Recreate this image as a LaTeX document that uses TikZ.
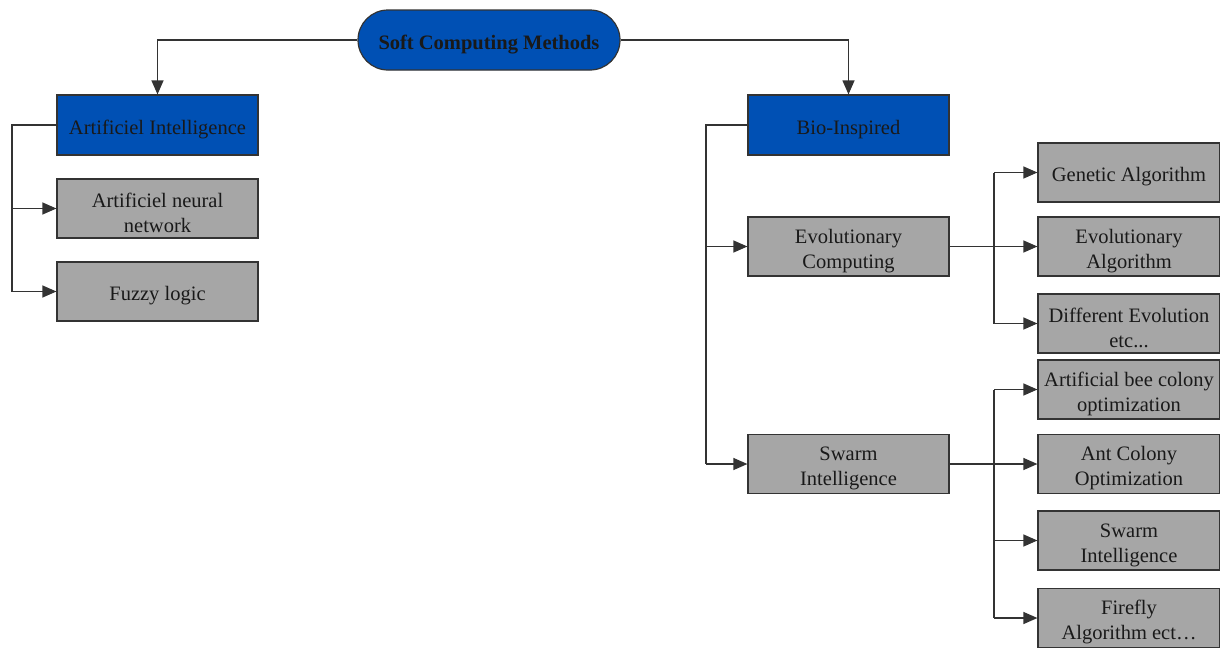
\documentclass[tikz,border=0pt]{standalone}
\usepackage{fontspec}
\setmainfont{Liberation Serif}
\usetikzlibrary{arrows.meta}
\definecolor{boxblue}{HTML}{0050B4}
\definecolor{boxgray}{HTML}{A6A6A6}
\newcommand{\tstrut}{\rule{0pt}{23pt}}
\begin{document}
\begin{tikzpicture}[x=1pt,y=-1pt,
  base/.style={draw=black!80,line width=1.2pt,align=center,inner sep=0pt,
    font=\fontsize{20.5}{25}\selectfont,text=black!90},
  bluebox/.style={base,fill=boxblue,minimum width=201pt,minimum height=60pt},
  graybox/.style={base,fill=boxgray,minimum width=201pt,minimum height=59pt},
  leafbox/.style={base,fill=boxgray,minimum width=182pt,minimum height=59pt},
  pill/.style={base,fill=boxblue,minimum width=262pt,minimum height=60pt,
    rounded corners=30pt,font=\fontsize{20.5}{25}\selectfont\bfseries},
  conn/.style={draw=black!80,line width=1.2pt},
  arr/.style={conn,-{Triangle[length=14pt,width=12pt]}}]
\useasboundingbox (0,0) rectangle (1220,648);
\node[pill] (root) at (489,40) {\tstrut Soft Computing Methods};
\node[bluebox] (ai) at (157.5,125) {\tstrut Artificiel Intelligence};
\node[graybox] (ann) at (157.5,208.5) {\tstrut Artificiel neural\\network};
\node[graybox] (fuzzy) at (157.5,291.5) {\tstrut Fuzzy logic};
\node[bluebox] (bio) at (848.5,125) {\tstrut Bio-Inspired};
\node[graybox] (ec) at (848.5,246.5) {\tstrut Evolutionary\\Computing};
\node[graybox] (si) at (848.5,464) {\tstrut Swarm\\Intelligence};
\node[leafbox] (ga) at (1129,172.5) {\tstrut Genetic Algorithm};
\node[leafbox] (ea) at (1129,246.5) {\tstrut Evolutionary\\Algorithm};
\node[leafbox] (de) at (1129,323.5) {\tstrut Different Evolution\\etc...};
\node[leafbox] (abc) at (1129,389.5) {\tstrut Artificial bee colony\\optimization};
\node[leafbox] (aco) at (1129,464) {\tstrut Ant Colony\\Optimization};
\node[leafbox] (swi) at (1129,540.5) {\tstrut Swarm\\Intelligence};
\node[leafbox] (ff) at (1129,618) {\tstrut Firefly\\Algorithm ect\dots};
\coordinate (bl) at (12,0);
\coordinate (br) at (706,0);
\coordinate (be) at (994,0);
% top
\draw[arr] (root.west) -| (ai.north);
\draw[arr] (root.east) -| (bio.north);
% left
\draw[conn] (ai.west) -| (bl |- fuzzy.west);
\draw[arr] (bl |- ann.west) -- (ann.west);
\draw[arr] (bl |- fuzzy.west) -- (fuzzy.west);
% bio
\draw[conn] (bio.west) -| (br |- si.west);
\draw[arr] (br |- ec.west) -- (ec.west);
\draw[arr] (br |- si.west) -- (si.west);
% evolutionary
\draw[arr] (ec.east) -- (ea.west);
\draw[conn] (be |- ga.west) -- (be |- de.west);
\draw[arr] (be |- ga.west) -- (ga.west);
\draw[arr] (be |- de.west) -- (de.west);
% swarm
\draw[arr] (si.east) -- (aco.west);
\draw[conn] (be |- abc.west) -- (be |- ff.west);
\draw[arr] (be |- abc.west) -- (abc.west);
\draw[arr] (be |- swi.west) -- (swi.west);
\draw[arr] (be |- ff.west) -- (ff.west);
\end{tikzpicture}
\end{document}
